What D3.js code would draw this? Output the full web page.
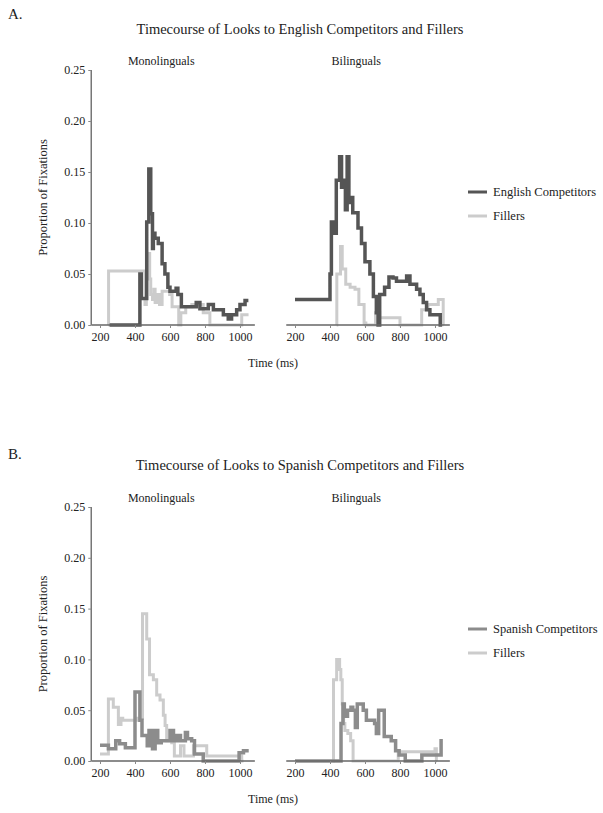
<!DOCTYPE html>
<html><head><meta charset="utf-8">
<script src="https://cdn.jsdelivr.net/npm/d3@7"></script>
<style>
html,body{margin:0;padding:0;background:#fff;}
text{font-family:"Liberation Serif","Times New Roman",serif;fill:#222;}
</style></head>
<body><svg id="c" width="603" height="813"></svg>
<script>
// ---- data ----
const xTicks = [200, 400, 600, 800, 1000];
const yTicks = [0, 0.05, 0.10, 0.15, 0.20, 0.25];
const groups = ["Monolinguals", "Bilinguals"];

// Panel A: English competitors (dark) and fillers (light), [time ms, proportion]
const engMono = [[255,0],[428,0.05],[436,0.026],[467,0.101],[479,0.153],[490,0.109],[500,0.075],[505,0.09],[514,0.085],[533,0.08],[555,0.06],[571,0.05],[588,0.037],[600,0.033],[635,0.036],[645,0.03],[665,0.018],[695,0.018],[715,0.018],[750,0.022],[771,0.016],[819,0.02],[848,0.015],[905,0.01],[933,0.006],[952,0.01],[981,0.015],[1000,0.02],[1029,0.024],[1048,0.024]];
const filMonoA = [[248,0],[249,0.053],[457,0.02],[465,0.045],[474,0.07],[484,0.045],[490,0.03],[500,0.025],[508,0.035],[515,0.022],[527,0.03],[540,0.02],[555,0.033],[598,0.03],[612,0.018],[640,0.018],[650,0],[662,0.012],[690,0.018],[725,0.02],[790,0.012],[828,0],[1010,0.01],[1049,0.01]];
const engBi = [[200,0.025],[400,0.05],[408,0.101],[420,0.09],[436,0.142],[455,0.165],[466,0.135],[478,0.142],[488,0.113],[498,0.165],[508,0.12],[520,0.125],[530,0.11],[560,0.095],[580,0.08],[600,0.062],[628,0.05],[648,0.028],[665,0.012],[675,0],[684,0.03],[712,0.037],[737,0.047],[760,0.046],[780,0.043],[838,0.048],[857,0.04],[895,0.035],[914,0.03],[933,0.022],[952,0.015],[971,0.01],[1030,0],[1040,0]];
const filBi = [[438,0],[439,0.05],[460,0.077],[470,0.055],[490,0.04],[515,0.037],[543,0.035],[565,0.02],[595,0.002],[605,0],[660,0.012],[684,0.007],[800,0],[924,0.015],[960,0.02],[1019,0.025],[1047,0],[1048,0]];

// Panel B: Spanish competitors (mid) and fillers (light)
const spaMono = [[200,0.0155],[248,0.012],[290,0.02],[312,0.017],[345,0.013],[400,0.068],[428,0.04],[440,0.025],[470,0.015],[480,0.03],[500,0.012],[515,0.03],[530,0.018],[550,0.02],[600,0.03],[620,0.02],[640,0.025],[660,0.02],[688,0.028],[700,0.022],[724,0.02],[740,0.007],[790,0],[995,0.008],[1020,0.01],[1050,0.01]];
const filMonoB = [[200,0.007],[248,0.061],[276,0.053],[305,0.036],[320,0.042],[330,0.04],[410,0.042],[443,0.145],[467,0.12],[483,0.085],[505,0.08],[524,0.065],[543,0.06],[562,0.045],[572,0.035],[581,0.02],[610,0.018],[625,0.005],[660,0.015],[680,0.005],[734,0.015],[810,0.005],[1010,0],[1020,0]];
const spaBi = [[200,0],[463,0.037],[474,0.056],[482,0.044],[500,0.05],[520,0.053],[530,0.05],[545,0.033],[556,0.056],[590,0.05],[608,0.04],[655,0.037],[665,0.027],[678,0.05],[710,0.024],[750,0.02],[775,0.01],[795,0.006],[830,0],[925,0.006],[1035,0.02],[1045,0.02]];
const filBiB = [[419,0],[420,0.08],[438,0.1],[455,0.09],[462,0.08],[470,0.056],[478,0.037],[485,0.03],[502,0.027],[518,0.02],[532,0],[790,0.009],[1000,0.012],[1008,0],[1010,0]];

const panelTitles = ["Timecourse of Looks to English Competitors and Fillers", "Timecourse of Looks to Spanish Competitors and Fillers"];
const panelLetters = ["A.", "B."];
const legendA = ["English Competitors", "Fillers"];
const legendB = ["Spanish Competitors", "Fillers"];

const colEng = "#555555", colSpa = "#8c8c8c", colFil = "#cccccc";

// ---- drawing ----
const svg = d3.select("#c");
const domX = [150, 1085];
const panels = [
  {top: 70, bottom: 325, titleY: 34, letterY: 19, series: [[engMono, filMonoA], [engBi, filBi]], cols: [colEng, colFil], legend: legendA, legY: 192},
  {top: 507, bottom: 761, titleY: 470, letterY: 459, series: [[spaMono, filMonoB], [spaBi, filBiB]], cols: [colSpa, colFil], legend: legendB, legY: 629}
];
const subLeft = [91.25, 286.25];
const subW = 163.6;

panels.forEach((p, pi) => {
  svg.append("text").attr("x", 8).attr("y", p.letterY).style("font-size", "15px").text(panelLetters[pi]);
  svg.append("text").attr("x", 300).attr("y", p.titleY).attr("text-anchor", "middle").style("font-size", "14.5px").text(panelTitles[pi]);
  const y = d3.scaleLinear().domain([0, 0.25]).range([p.bottom, p.top]);

  groups.forEach((g, gi) => {
    const x = d3.scaleLinear().domain(domX).range([subLeft[gi], subLeft[gi] + subW]);
    svg.append("text").attr("x", x(550)).attr("y", p.top - 5).attr("text-anchor", "middle").style("font-size", "12px").text(g);

    const line = d3.line().x(d => x(d[0])).y(d => y(d[1])).curve(d3.curveStepAfter);
    // fillers first, competitors on top
    [1, 0].forEach(si => {
      svg.append("path").datum(p.series[gi][si]).attr("d", line)
        .attr("fill", "none").attr("stroke", p.cols[si]).attr("stroke-width", si === 0 ? 3.5 : 3);
    });

    const xa = svg.append("g").attr("transform", `translate(0,${p.bottom})`)
      .call(d3.axisBottom(x).tickValues(xTicks).tickSize(3).tickPadding(4).tickFormat(d3.format("d")))
      .attr("font-family", "Liberation Serif").attr("font-size", 12);
    xa.select(".domain").attr("stroke", "#666").attr("stroke-width", 1.5).attr("d", `M${subLeft[gi]},0H${subLeft[gi] + subW}`);
    xa.selectAll(".tick line").attr("stroke", "#888");
    xa.selectAll("text").style("font-size", "12px").attr("fill", "#222");

    if (gi === 0) {
      const ya = svg.append("g").attr("transform", `translate(${subLeft[0]},0)`)
        .call(d3.axisLeft(y).tickValues(yTicks).tickSize(3).tickPadding(3).tickFormat(d3.format(".2f")))
        .attr("font-family", "Liberation Serif").attr("font-size", 12);
      ya.select(".domain").attr("stroke", "#777").attr("stroke-width", 1.5).attr("d", `M0,${p.top}V${p.bottom}`);
      ya.selectAll(".tick line").attr("stroke", "#888");
      ya.selectAll("text").style("font-size", "12px").attr("fill", "#222");
    }
  });

  svg.append("text").attr("transform", `translate(47,${(p.top + p.bottom) / 2}) rotate(-90)`)
    .attr("text-anchor", "middle").style("font-size", "12.5px").text("Proportion of Fixations");
  svg.append("text").attr("x", 273).attr("y", p.bottom + 42).attr("text-anchor", "middle").style("font-size", "12px").text("Time (ms)");

  p.legend.forEach((lab, li) => {
    const ly = p.legY + li * 24;
    svg.append("line").attr("x1", 468).attr("x2", 487).attr("y1", ly).attr("y2", ly).attr("stroke", p.cols[li]).attr("stroke-width", 3);
    svg.append("text").attr("x", 493).attr("y", ly + 4).style("font-size", "12.5px").text(lab);
  });
});
</script></body></html>
